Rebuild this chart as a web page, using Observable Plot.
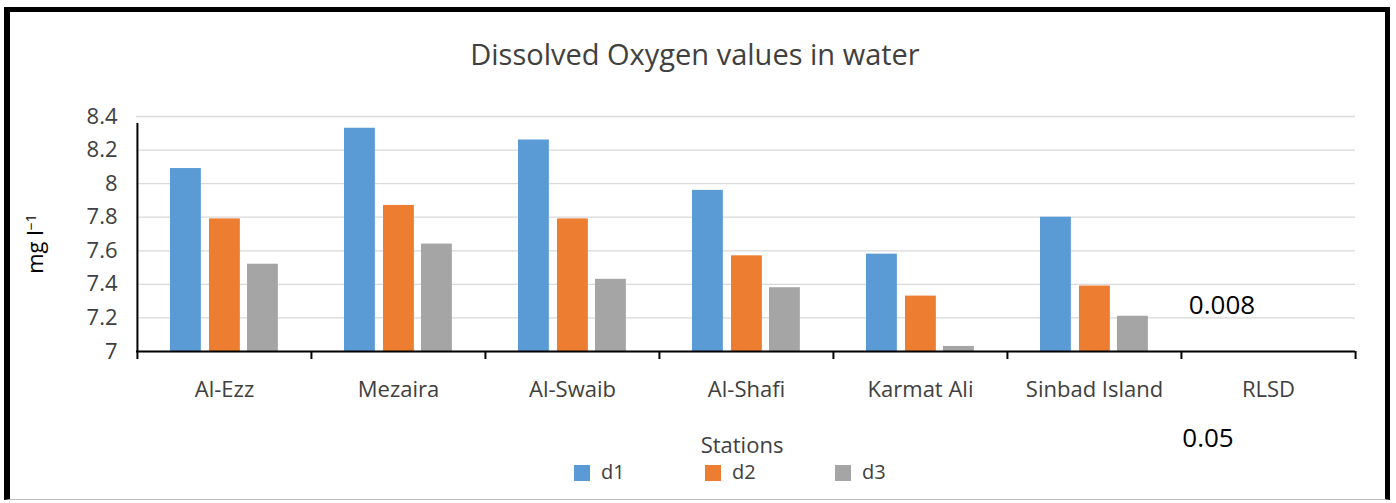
<!DOCTYPE html>
<html>
<head>
<meta charset="utf-8">
<script src="https://cdn.jsdelivr.net/npm/d3@7"></script>
<script src="https://cdn.jsdelivr.net/npm/@observablehq/plot@0.6"></script>
<style>
  html, body { margin: 0; padding: 0; background: #fff; }
  #wrap { position: relative; width: 1396px; height: 503px; overflow: hidden; font-family: "Open Sans", sans-serif; }
  #chart { position: absolute; left: 0; top: 0; }
  .t { position: absolute; white-space: nowrap; line-height: 1; }
  #border { position: absolute; left: 4px; top: 7px; width: 1375px; height: 487px;
            border-left: 6px solid #000; border-top: 5px solid #000; border-right: 5px solid #000; border-bottom: 1px solid #bdbdbd; }
  .sw { position: absolute; width: 16px; height: 16px; }
</style>
</head>
<body>
<div id="wrap">
  <div id="chart"></div>
  <div class="t" id="title" style="left:0; width:1390px; text-align:center; top:39px; font-size:29px; color:#404040;">Dissolved Oxygen values in water</div>
  <div class="t" id="ylabel" style="left:-16px; width:100px; text-align:center; top:233px; height:22px; font-size:22px; color:#000; transform:rotate(-90deg);">mg l<sup style="font-size:14px; vertical-align:7px;">−1</sup></div>
  <div class="t" style="left:1122px; width:200px; text-align:center; top:291px; font-size:26px; color:#000;">0.008</div>
  <div class="t" style="left:1108px; width:200px; text-align:center; top:424px; font-size:26px; color:#000;">0.05</div>
  <div class="t" style="left:642px; width:200px; text-align:center; top:434px; line-height:20px; font-size:22px; color:#404040;">Stations</div>
  <div id="legend"></div>
  <div id="border"></div>
</div>
<script>
const stations = ["Al-Ezz", "Mezaira", "Al-Swaib", "Al-Shafi", "Karmat Ali", "Sinbad Island", "RLSD"];
const seriesNames = ["d1", "d2", "d3"];
const d1 = [8.09, 8.33, 8.26, 7.96, 7.58, 7.80, null];
const d2 = [7.79, 7.87, 7.79, 7.57, 7.33, 7.39, null];
const d3 = [7.52, 7.64, 7.43, 7.38, 7.03, 7.21, null];
const yTicks = [7, 7.2, 7.4, 7.6, 7.8, 8, 8.2, 8.4];
const colors = ["#5B9BD5", "#ED7D31", "#A5A5A5"];

const seriesValues = [d1, d2, d3];
const rows = [];
seriesNames.forEach((s, si) => {
  stations.forEach((st, i) => {
    const v = seriesValues[si][i];
    if (v != null) rows.push({station: st, series: s, value: v});
  });
});

const W = 1396, H = 420, ML = 136, MR = 41, MT = 116, MB = 69;
const band = (W - ML - MR) / stations.length;
const barW = 31;
const insets = [[33, band - 33 - barW], [72, band - 72 - barW], [110, band - 110 - barW]];
const y0 = yTicks[0], yTop = yTicks[yTicks.length - 1];

const marks = [
  Plot.gridY(yTicks, {stroke: "#d9d9d9", strokeOpacity: 1, strokeWidth: 1.3}),
  ...seriesNames.map((s, si) =>
    Plot.barY(rows.filter(r => r.series === s), {
      x: "station", y1: y0, y2: "value", fill: colors[si],
      insetLeft: insets[si][0], insetRight: insets[si][1]
    })
  ),
  Plot.ruleY([y0], {stroke: "#000", strokeWidth: 2}),
  Plot.ruleX(stations, {x: d => d, y1: y0, y2: y0, dx: -band / 2, insetBottom: -8, stroke: "#000", strokeWidth: 2}),
  Plot.ruleX(stations.slice(-1), {x: d => d, y1: y0, y2: y0, dx: band / 2, insetBottom: -8, stroke: "#000", strokeWidth: 2}),
  Plot.ruleX(stations.slice(0, 1), {x: d => d, y1: y0, y2: yTop, dx: -band / 2, insetBottom: -7, stroke: "#000", strokeWidth: 2}),
  Plot.axisY({ticks: yTicks, tickSize: 0, tickPadding: 19, fontSize: 22, fill: "#404040", label: null, tickFormat: d => String(+d.toFixed(1))}),
  Plot.axisX({tickSize: 0, tickPadding: 30, fontSize: 22, fill: "#404040", label: null})
];

const chart = Plot.plot({
  width: W, height: H,
  marginLeft: ML, marginRight: MR, marginTop: MT, marginBottom: MB,
  style: {fontFamily: "Open Sans", background: "transparent", overflow: "visible"},
  x: {domain: stations, padding: 0},
  y: {domain: [y0, yTop]},
  marks
});
document.getElementById("chart").appendChild(chart);

const legend = document.getElementById("legend");
const legendX = [574, 705, 835];
seriesNames.forEach((s, i) => {
  const sw = document.createElement("div");
  sw.className = "sw";
  sw.style.left = legendX[i] + "px";
  sw.style.top = "465px";
  sw.style.background = colors[i];
  legend.appendChild(sw);
  const t = document.createElement("div");
  t.className = "t";
  t.style.left = (legendX[i] + 27) + "px";
  t.style.top = "462px";
  t.style.fontSize = "20px";
  t.style.color = "#404040";
  t.textContent = s;
  legend.appendChild(t);
});
</script>
</body>
</html>
